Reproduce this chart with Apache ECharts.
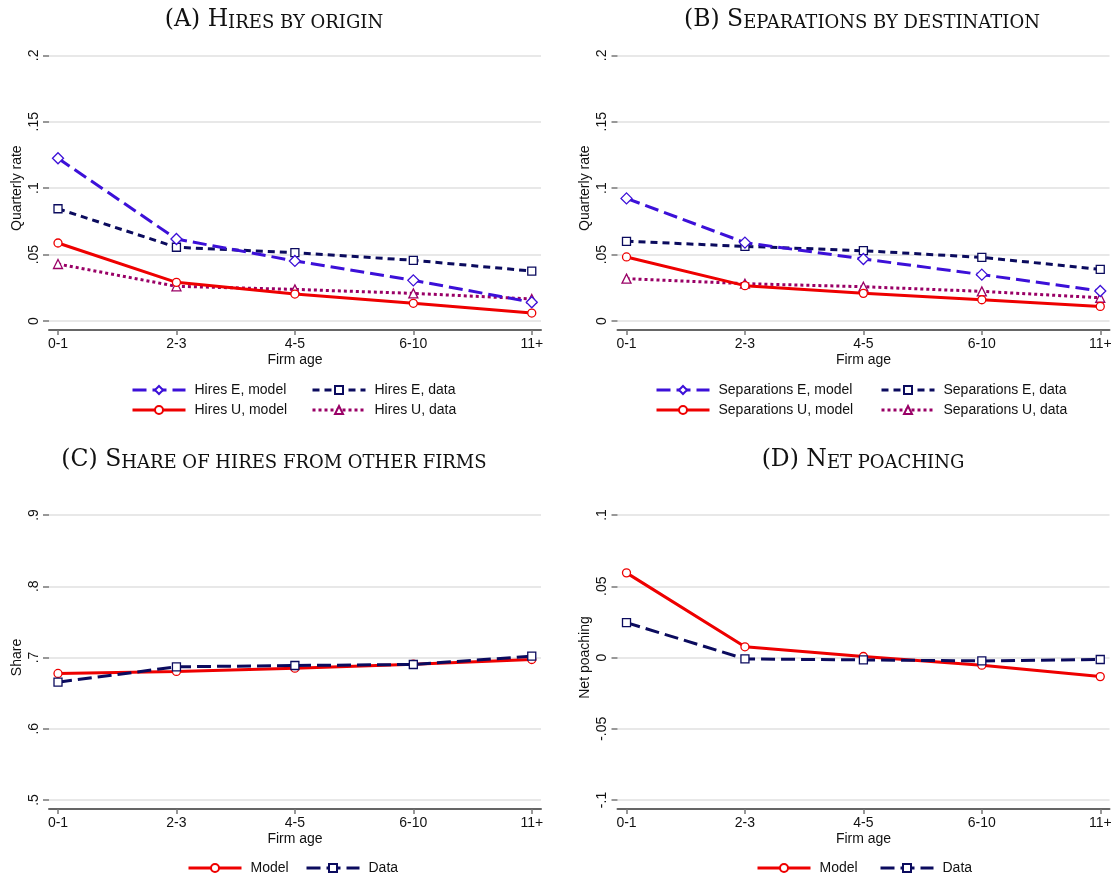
<!DOCTYPE html>
<html><head><meta charset="utf-8">
<script src="https://cdn.jsdelivr.net/npm/echarts@6/dist/echarts.min.js"></script>
<style>html,body{margin:0;padding:0;background:#fff}#c{width:1117px;height:882px}</style>
</head><body><div id="c"></div>
<script>
// ---------- data ----------
const ageCategories = ['0-1', '2-3', '4-5', '6-10', '11+'];
const hiresEModel = [0.1225, 0.0617, 0.0452, 0.0306, 0.0141];
const hiresEData  = [0.0845, 0.0555, 0.0514, 0.0457, 0.0376];
const hiresUModel = [0.0587, 0.0291, 0.0203, 0.0133, 0.0060];
const hiresUData  = [0.0429, 0.0261, 0.0238, 0.0208, 0.0166];
const sepEModel = [0.0923, 0.0590, 0.0467, 0.0349, 0.0226];
const sepEData  = [0.0600, 0.0562, 0.0529, 0.0479, 0.0389];
const sepUModel = [0.0482, 0.0266, 0.0208, 0.0160, 0.0110];
const sepUData  = [0.0319, 0.0281, 0.0258, 0.0223, 0.0175];
const shareModel = [0.6776, 0.6805, 0.6850, 0.6906, 0.6972];
const shareData  = [0.6654, 0.6869, 0.6888, 0.6902, 0.7018];
const poachModel = [0.0594, 0.0075, 0.0007, -0.0054, -0.0134];
const poachData  = [0.0245, -0.0010, -0.0017, -0.0024, -0.0014];
const rateAxis  = {min: 0, max: 0.2, interval: 0.05};
const shareAxis = {min: 0.5, max: 0.9, interval: 0.1};
const poachAxis = {min: -0.1, max: 0.1, interval: 0.05};

// ---------- style ----------
const SANS = 'Liberation Sans, Arial, sans-serif';
const SERIF = '"DejaVu Serif", serif';
const C_EMODEL = '#3c10d8', C_EDATA = '#0b0b5e', C_UMODEL = '#ee0000', C_UDATA = '#990066';
const TXT = '#111';

const grids = [
  {left: 49, top: 55.3, width: 492, height: 265.7},
  {left: 617.5, top: 55.3, width: 492, height: 265.7},
  {left: 49, top: 515, width: 492, height: 285},
  {left: 617.5, top: 515, width: 492, height: 285}
];

function fmtNum(v) {
  const r = parseFloat(v.toFixed(4));
  if (r === 0) return '0';
  return String(r).replace('0.', '.');
}

function xAxisFor(gi) {
  return {
    type: 'value', gridIndex: gi, min: -0.076, max: 4.078, offset: 9,
    axisLine: {show: true, onZero: false, lineStyle: {color: '#666', width: 2}},
    axisTick: {show: true, customValues: [0, 1, 2, 3, 4], length: 5, lineStyle: {color: '#777', width: 1.5}},
    axisLabel: {customValues: [0, 1, 2, 3, 4], formatter: v => ageCategories[Math.round(v)],
      margin: 7, fontSize: 14, color: TXT, fontFamily: SANS},
    splitLine: {show: false},
    name: 'Firm age', nameLocation: 'middle', nameGap: 23,
    nameTextStyle: {fontSize: 14, color: TXT, fontFamily: SANS}
  };
}
function yAxisFor(gi, ax, name) {
  return {
    type: 'value', gridIndex: gi, min: ax.min, max: ax.max, interval: ax.interval,
    axisLine: {show: false, onZero: false},
    axisTick: {show: true, length: 6, lineStyle: {color: '#777', width: 1.5}},
    axisLabel: {rotate: 90, margin: 8, formatter: fmtNum, fontSize: 14, color: TXT, fontFamily: SANS},
    splitLine: {show: true, lineStyle: {color: '#e0e0e0', width: 1.5}},
    name: name, nameLocation: 'middle', nameGap: 25,
    nameTextStyle: {fontSize: 14, color: TXT, fontFamily: SANS}
  };
}
function line(name, gi, vals, color, dash, symbol, size, z) {
  return {
    type: 'line', name: name, xAxisIndex: gi, yAxisIndex: gi,
    data: vals.map((v, i) => [i, v]),
    symbol: symbol, symbolSize: size, showSymbol: true,
    itemStyle: {color: '#fff', borderColor: color, borderWidth: 1.3},
    lineStyle: {color: color, width: 3, type: dash, cap: 'butt'},
    z: z, emphasis: {disabled: true}
  };
}
function leg(name, left, top) {
  return {
    data: [name], left: left, top: top, padding: 0, itemWidth: 53, itemHeight: 10,
    selectedMode: false, lineStyle: {width: 3},
    textStyle: {fontSize: 14, color: TXT, fontFamily: SANS, padding: [0, 0, 0, 4]}
  };
}
function ttl(big, small, cx, top) {
  return {
    text: '{b|' + big + '}{s|' + small + '}', left: cx, top: top, textAlign: 'center', padding: 0,
    textStyle: {fontWeight: 'normal', rich: {
      b: {fontSize: 23.5, fontFamily: SERIF, fontWeight: 'normal', color: TXT, verticalAlign: 'bottom'},
      s: {fontSize: 18, fontFamily: SERIF, fontWeight: 'normal', color: TXT, verticalAlign: 'bottom'}
    }}
  };
}

const LONG = [14, 6], SHORT = [7, 5], DOT = [3, 3];

const option = {
  animation: false,
  backgroundColor: '#fff',
  title: [
    ttl('(A) H', 'IRES BY ORIGIN', 274, 8),
    ttl('(B) S', 'EPARATIONS BY DESTINATION', 862, 8),
    ttl('(C) S', 'HARE OF HIRES FROM OTHER FIRMS', 274, 448),
    ttl('(D) N', 'ET POACHING', 863, 448)
  ],
  grid: grids,
  xAxis: [xAxisFor(0), xAxisFor(1), xAxisFor(2), xAxisFor(3)],
  yAxis: [
    yAxisFor(0, rateAxis, 'Quarterly rate'),
    yAxisFor(1, rateAxis, 'Quarterly rate'),
    yAxisFor(2, shareAxis, 'Share'),
    yAxisFor(3, poachAxis, 'Net poaching')
  ],
  legend: [
    leg('Hires E, model', 131, 383), leg('Hires E, data', 311, 383),
    leg('Hires U, model', 131, 403), leg('Hires U, data', 311, 403),
    leg('Separations E, model', 655, 383), leg('Separations E, data', 880, 383),
    leg('Separations U, model', 655, 403), leg('Separations U, data', 880, 403),
    leg('Model', 187, 861), leg('Data', 305, 861),
    leg('Model', 756, 861), leg('Data', 879, 861)
  ],
  series: [
    line('Hires E, model', 0, hiresEModel, C_EMODEL, LONG, 'diamond', 11, 4),
    line('Hires E, data', 0, hiresEData, C_EDATA, SHORT, 'rect', 8, 3),
    line('Hires U, model', 0, hiresUModel, C_UMODEL, 'solid', 'circle', 8, 5),
    line('Hires U, data', 0, hiresUData, C_UDATA, DOT, 'triangle', 9, 2),
    line('Separations E, model', 1, sepEModel, C_EMODEL, LONG, 'diamond', 11, 4),
    line('Separations E, data', 1, sepEData, C_EDATA, SHORT, 'rect', 8, 3),
    line('Separations U, model', 1, sepUModel, C_UMODEL, 'solid', 'circle', 8, 5),
    line('Separations U, data', 1, sepUData, C_UDATA, DOT, 'triangle', 9, 2),
    line('Model', 2, shareModel, C_UMODEL, 'solid', 'circle', 8, 3),
    line('Data', 2, shareData, C_EDATA, LONG, 'rect', 8, 4),
    line('Model', 3, poachModel, C_UMODEL, 'solid', 'circle', 8, 3),
    line('Data', 3, poachData, C_EDATA, LONG, 'rect', 8, 4)
  ]
};
const chart = echarts.init(document.getElementById('c'), null, {renderer: 'canvas'});
chart.setOption(option);
</script>
</body></html>
